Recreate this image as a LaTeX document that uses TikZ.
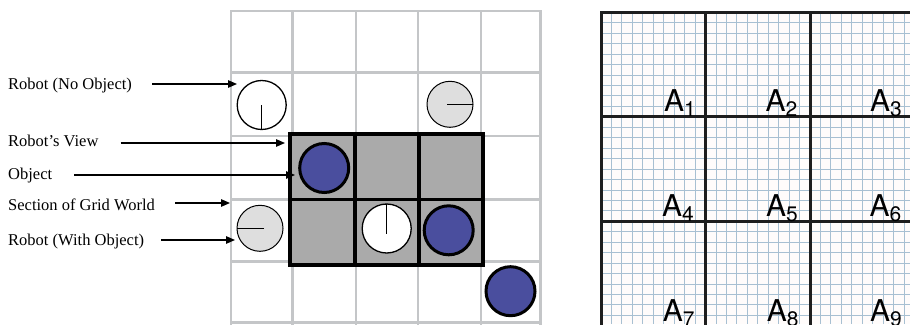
\documentclass[tikz,border=0pt]{standalone}
\usepackage{fontspec}
\setmainfont{Liberation Serif}
\setsansfont{TeX Gyre Heros}
\usetikzlibrary{arrows.meta,calc}
\definecolor{gridgray}{RGB}{196,198,200}
\definecolor{viewgray}{RGB}{170,170,170}
\definecolor{objblue}{RGB}{74,78,158}
\definecolor{robgray}{RGB}{222,222,222}
\definecolor{finegrid}{RGB}{168,192,210}
\definecolor{paper}{RGB}{255,252,251}
\definecolor{ink}{RGB}{30,30,30}
\begin{document}
\begin{tikzpicture}[x=1pt,y=-1pt,
  gridline/.style={draw=gridgray,line width=2.6pt,line cap=rect},
  boldline/.style={draw=black,line width=3.3pt,line cap=rect},
  robot/.style={circle,draw=black,fill=white,line width=1.3pt,minimum size=49pt,inner sep=0pt,outer sep=0pt},
  grobot/.style={circle,draw=black,fill=robgray,line width=1pt,minimum size=46pt,inner sep=0pt,outer sep=0pt},
  obj/.style={circle,draw=black,fill=objblue,line width=3pt,minimum size=49pt,inner sep=0pt,outer sep=0pt},
  hand/.style={draw=black,line width=1.5pt},
  lbl/.style={inner sep=0pt,font=\fontsize{16.5}{16.5}\selectfont,anchor=base west},
  arr/.style={draw=black,line width=1.3pt,-{Triangle[length=9pt,width=7.5pt]}},
  fine/.style={draw=finegrid,line width=0.9pt},
  heavy/.style={draw=ink,line width=3pt,line cap=rect},
  alab/.style={inner sep=0pt,anchor=base west,font=\sffamily\fontsize{30}{30}\selectfont}
]
\useasboundingbox (0,0) rectangle (910,324);

% ---- left grid world ----
\foreach \x in {231,292.5,356,418,481,540.5}
  \draw[gridline] (\x,11) -- (\x,324);
\foreach \y in {11,72.5,136,199.5,261.5,322.5}
  \draw[gridline] (231,\y) -- (540.5,\y);

% robot's view
\fill[viewgray] (290,134) rectangle (483,265);
\draw[boldline] (290,134) rectangle (483,265);
\draw[boldline] (355,134) -- (355,265);
\draw[boldline] (419,134) -- (419,265);
\draw[boldline] (290,199.5) -- (483,199.5);

% robots and objects
\node[robot] (r1) at (261.7,105) {};
\draw[hand] (r1.center) -- (r1.south);
\node[grobot] (g1) at (450,104.3) {};
\draw[hand] ([xshift=-3pt]g1.center) -- (g1.east);
\node[grobot] (g2) at (260,228.3) {};
\draw[hand] ([xshift=4pt]g2.center) -- (g2.west);
\node[robot] (r2) at (386.7,228.5) {};
\draw[hand] (r2.north) -- ([yshift=-5pt]r2.center);
\node[obj] (o1) at (324.2,168) {};
\node[obj] (o2) at (448.7,230.3) {};
\node[obj] (o3) at (510.5,291.2) {};

% labels and arrows
\node[lbl] (l1) at (8,89.3) {Robot (No Object)};
\node[lbl] (l2) at (8,146) {Robot's View};
\node[lbl] (l3) at (8,179.3) {Object};
\node[lbl] (l4) at (8,210) {Section of Grid World};
\node[lbl] (l5) at (8,245) {Robot (With Object)};
\coordinate (t1) at (237,84);
\coordinate (t2) at (285,143);
\coordinate (t3) at (295,175);
\coordinate (t4) at (230,203);
\coordinate (t5) at (235,240);
\draw[arr] let \p1=(l1.east), \p2=(t1) in (\x1+20pt,\y2) -- (t1);
\draw[arr] let \p1=(l2.east), \p2=(t2) in (\x1+22pt,\y2) -- (t2);
\draw[arr] let \p1=(l3.east), \p2=(t3) in (\x1+22pt,\y2) -- (t3);
\draw[arr] let \p1=(l4.east), \p2=(t4) in (\x1+20pt,\y2) -- (t4);
\draw[arr] let \p1=(l5.east), \p2=(t5) in (\x1+17pt,\y2) -- (t5);

% ---- right partitioned grid ----
\begin{scope}
  \clip (601,12.3) rectangle (910,324);
  \fill[paper] (601,12.3) rectangle (910,324);
  \foreach \i in {0,...,30}
    \draw[fine] ({601+\i*10.45},12.3) -- ({601+\i*10.45},324);
  \foreach \j in {0,...,30}
    \draw[fine] (601,{12.3+\j*10.45}) -- (910,{12.3+\j*10.45});
\end{scope}
\foreach \x in {601,705.5,810}
  \draw[heavy] (\x,12.3) -- (\x,326);
\foreach \y in {12.3,116.7,221}
  \draw[heavy] (601,\y) -- (912,\y);

\newcommand{\asub}[1]{A\raisebox{-4.5pt}{\fontsize{21}{21}\selectfont #1}}
\node[alab] (a1) at (664,111.7) {\asub{1}};
\node[alab] (a2) at (765.5,111.7) {\asub{2}};
\node[alab] (a3) at (870,111.7) {\asub{3}};
\node[alab] (a4) at (662,216.5) {\asub{4}};
\node[alab] (a5) at (766,216.5) {\asub{5}};
\node[alab] (a6) at (869.5,216.5) {\asub{6}};
\node[alab] (a7) at (662.7,321.5) {\asub{7}};
\node[alab] (a8) at (766.7,321.5) {\asub{8}};
\node[alab] (a9) at (870,321.5) {\asub{9}};
\end{tikzpicture}
\end{document}
